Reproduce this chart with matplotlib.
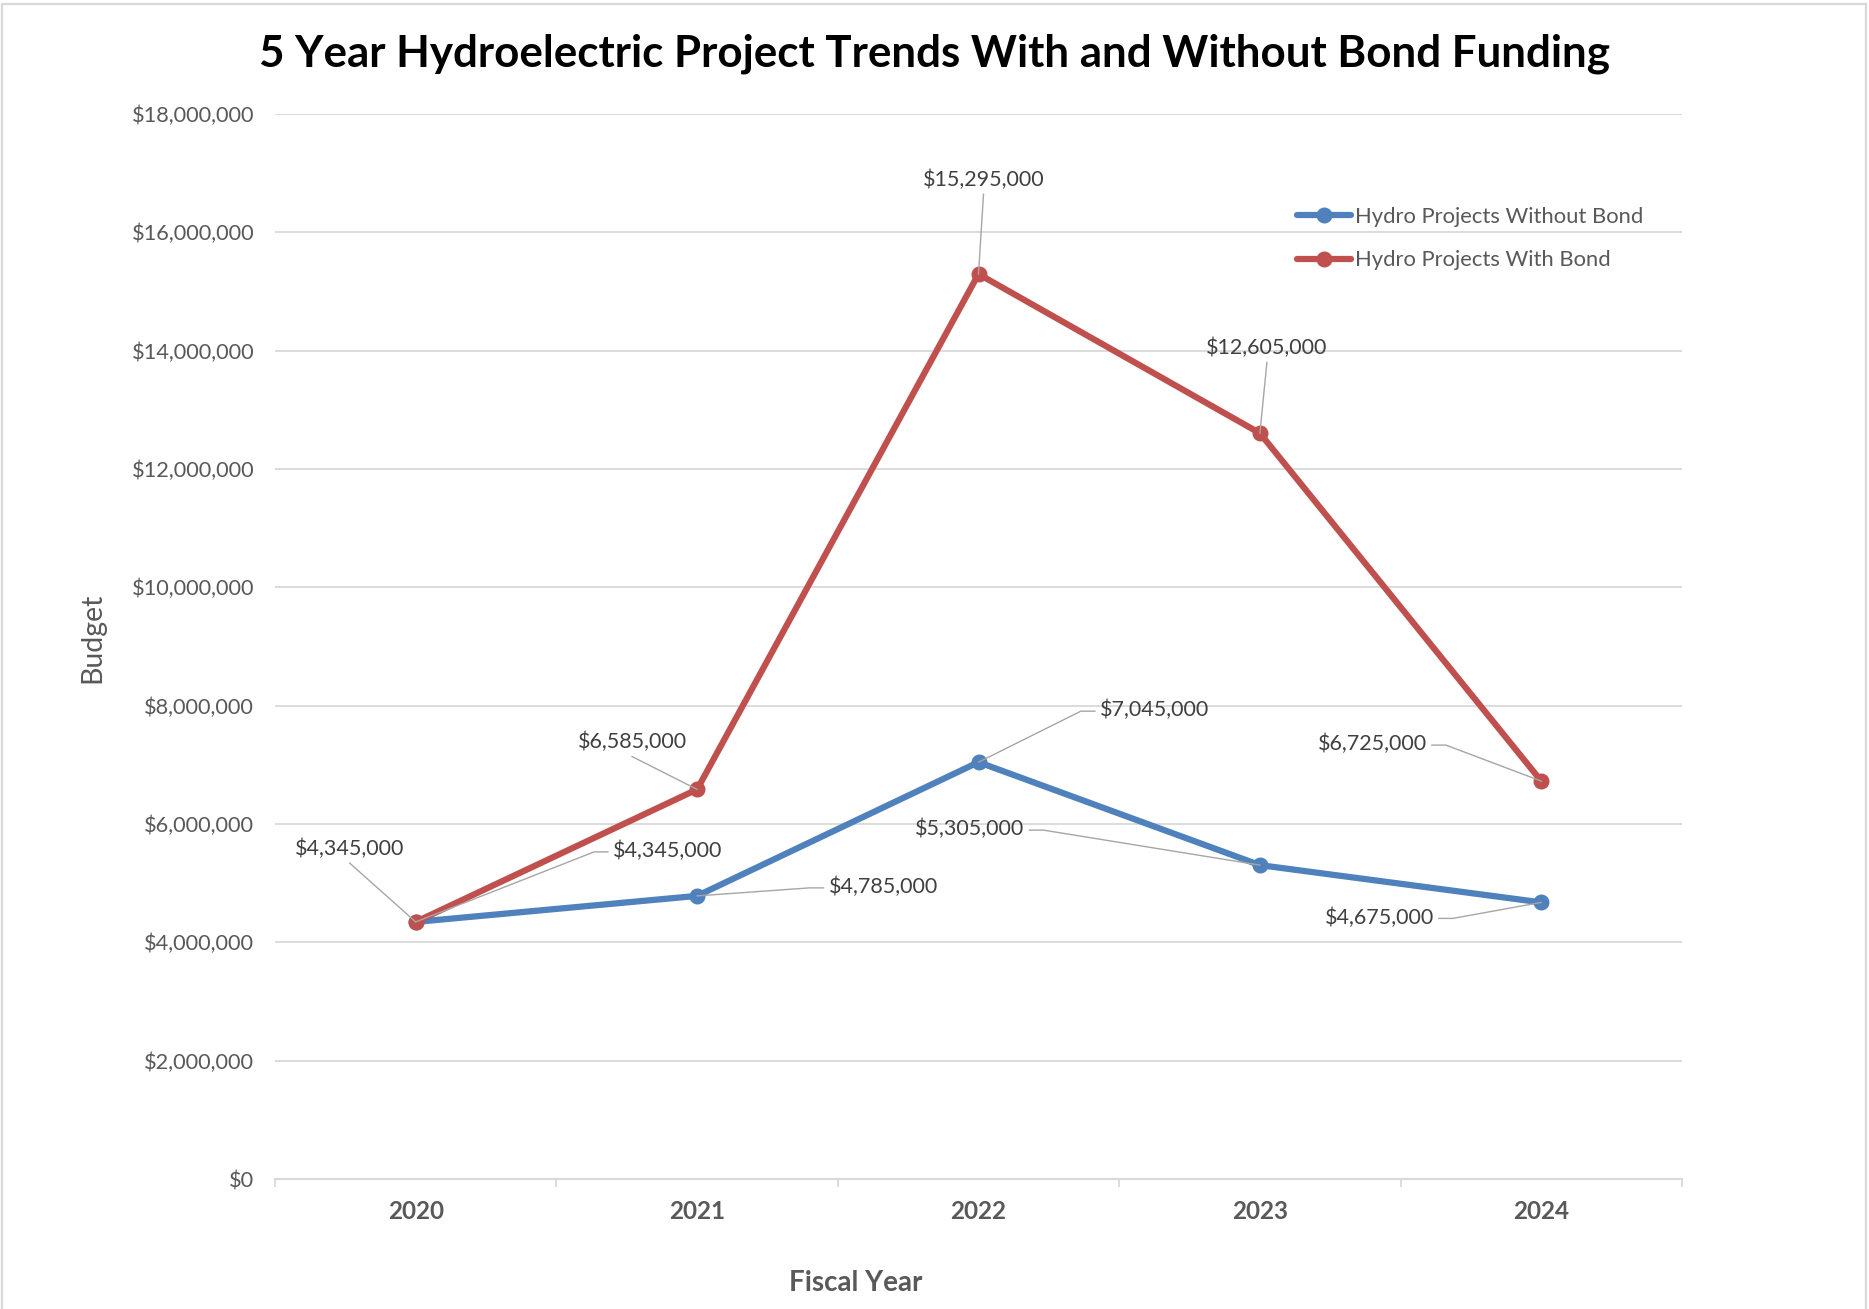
import matplotlib
matplotlib.use("Agg")
import matplotlib.pyplot as plt
from matplotlib.lines import Line2D
from matplotlib.patches import Rectangle
from matplotlib.ticker import FuncFormatter, FixedLocator

plt.rcParams["font.family"] = ["Lato", "DejaVu Sans"]

years = ["2020", "2021", "2022", "2023", "2024"]
without_bond = [4345000, 4785000, 7045000, 5305000, 4675000]
with_bond = [4345000, 6585000, 15295000, 12605000, 6725000]
y_ticks = [0, 2000000, 4000000, 6000000, 8000000, 10000000,
           12000000, 14000000, 16000000, 18000000]

series_names = ["Hydro Projects Without Bond", "Hydro Projects With Bond"]
series_colors = ["#4F81BD", "#C0504D"]

# Label offsets (pixels from the point to label centre) and leader style
without_bond_labels = [(252, 71, "right"), (186, 9, "right"), (176, 52, "right"),
                       (-290, 36, "left"), (-162, -15, "left")]
with_bond_labels = [(-66, 73, "below"), (-65, 47, "below"), (5, 94, "below"),
                    (7, 85, "below"), (-169, 37, "left")]

W, H = 1869, 1309
fig = plt.figure(figsize=(W / 100, H / 100), dpi=100)
fig.patch.set_facecolor("white")

# thin frame round the chart area
fig.add_artist(Rectangle((1.5 / W, -0.05), (1866 - 1.5) / W, 1.05 - 3.5 / H,
                         transform=fig.transFigure, fill=False,
                         edgecolor="#D9D9D9", lw=1.6))

ax = fig.add_axes([275 / W, 1 - 1179 / H, (1682 - 275) / W, (1179 - 114) / H])
x = list(range(len(years)))

for vals, name, col in zip([without_bond, with_bond], series_names, series_colors):
    ax.plot(x, vals, color=col, lw=4.5, marker="o", markersize=10.5,
            solid_capstyle="round", solid_joinstyle="round", label=name, zorder=3)

ax.set_xlim(-0.5, len(years) - 0.5)
ax.set_ylim(0, 18000000)
ax.yaxis.set_major_locator(FixedLocator(y_ticks))
ax.yaxis.set_major_formatter(FuncFormatter(lambda v, p: f"${v:,.0f}"))
ax.grid(axis="y", color="#D9D9D9", lw=1.3)
ax.set_axisbelow(True)
for s in ["top", "right", "left"]:
    ax.spines[s].set_visible(False)
ax.spines["bottom"].set_color("#D9D9D9")
ax.spines["bottom"].set_linewidth(1.5)
ax.spines["bottom"].set_zorder(1)

ax.set_xticks(x)
ax.set_xticklabels(years, fontsize=17.5, fontweight="bold", color="#595959")
ax.set_xticks([i - 0.5 for i in range(len(years) + 1)], minor=True)
ax.tick_params(axis="x", which="major", length=0, pad=15)
ax.tick_params(axis="x", which="minor", length=6, width=1.3, color="#D9D9D9")
ax.tick_params(axis="y", length=0, pad=15, labelsize=15.7, labelcolor="#595959")

fig.text(934 / W, 1 - 54 / H,
         "5 Year Hydroelectric Project Trends With and Without Bond Funding",
         ha="center", va="center", fontsize=31.6, fontweight="bold", color="black")
fig.text(856 / W, 1 - 1283 / H, "Fiscal Year", ha="center", va="center",
         fontsize=20, fontweight="bold", color="#595959")
fig.text(92 / W, 1 - 638 / H, "Budget", ha="center", va="center",
         rotation=90, fontsize=20.5, color="#595959")

leg = ax.legend(loc="upper left", bbox_to_anchor=(1297 / W, 1 - 207 / H),
                bbox_transform=fig.transFigure, frameon=False, fontsize=15.8,
                handlelength=2.45, handletextpad=0.2, labelspacing=1.07,
                borderaxespad=0, borderpad=0)
for t in leg.get_texts():
    t.set_color("#595959")

# data labels
labels = []
for vals, offs in [(without_bond, without_bond_labels), (with_bond, with_bond_labels)]:
    for i, (v, (dx, dy, style)) in enumerate(zip(vals, offs)):
        t = ax.annotate(f"${v:,.0f}", xy=(i, v), xytext=(dx, dy),
                        textcoords="offset pixels", ha="center", va="center",
                        fontsize=15.5, color="#404040", zorder=5)
        labels.append((t, i, v, style))

fig.canvas.draw()
renderer = fig.canvas.get_renderer()
inv = fig.transFigure.inverted()
for t, i, v, style in labels:
    bb = t.get_window_extent(renderer)
    px, py = ax.transData.transform((i, v))
    ym = (bb.y0 + bb.y1) / 2 - 1
    if style == "right":
        pts = [(bb.x0 - 5, ym), (bb.x0 - 19, ym), (px, py)]
    elif style == "left":
        pts = [(bb.x1 + 5, ym), (bb.x1 + 19, ym), (px, py)]
    else:
        pts = [((bb.x0 + bb.x1) / 2, bb.y0 - 4), (px, py)]
    fpts = inv.transform(pts)
    fig.add_artist(Line2D(fpts[:, 0], fpts[:, 1], transform=fig.transFigure,
                          color="#A6A6A6", lw=1.0, zorder=6))

fig.savefig("out.png", dpi=100, facecolor="white")
